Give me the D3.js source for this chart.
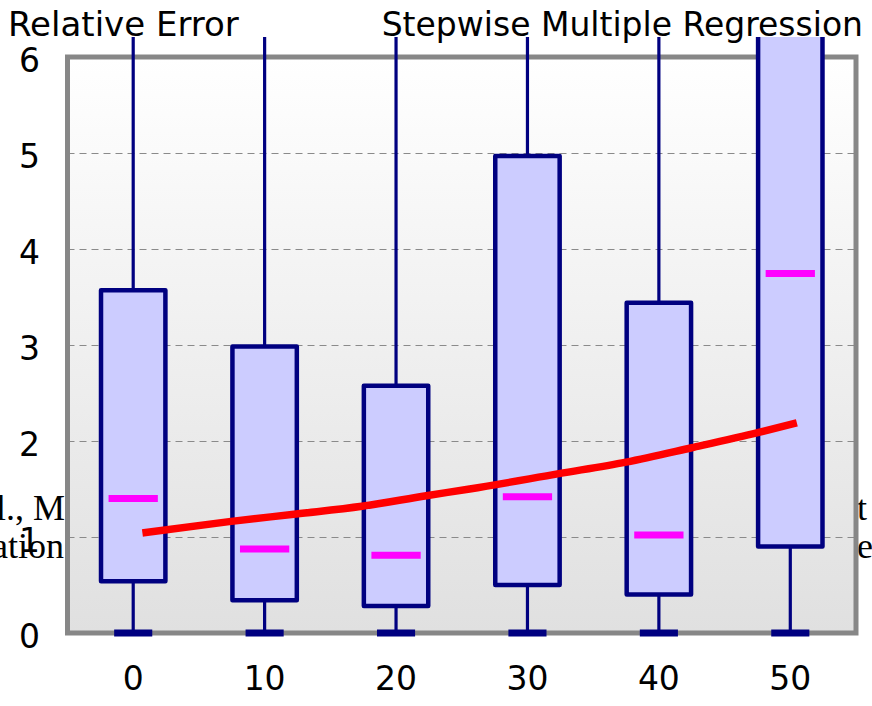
<!DOCTYPE html>
<html>
<head>
<meta charset="utf-8">
<script src="https://cdn.jsdelivr.net/npm/d3@7/dist/d3.min.js"></script>
<style>
  html, body { margin: 0; padding: 0; background: #ffffff; }
  svg { display: block; }
</style>
</head>
<body>
<svg id="chart" width="872" height="706"></svg>
<script>
// Box-plot data per category
const categories = ["0", "10", "20", "30", "40", "50"];
const q1Values = [0.54, 0.34, 0.28, 0.50, 0.40, 0.90];
const q3Values = [3.57, 2.985, 2.576, 4.97, 3.44, 7.0];
const medianValues = [1.40, 0.875, 0.81, 1.42, 1.02, 3.745];
const whiskerLowValues = [0, 0, 0, 0, 0, 0];
const whiskerHighValues = [9, 9, 9, 9, 9, 9];

// Trend curve (x in category units, y in relative error)
const trendX = [0.7, 7.3, 12.4, 17.4, 22.3, 25.6, 32.4, 37.5, 42.5, 47.6, 50.5];
const trendY = [1.042, 1.16, 1.24, 1.32, 1.43, 1.50, 1.66, 1.78, 1.93, 2.09, 2.19];

const yTicks = [0, 1, 2, 3, 4, 5, 6];
const titleLeft = "Relative Error";
const titleRight = "Stepwise Multiple Regression";

const svg = d3.select("#chart");
const plot = { left: 67.5, right: 856, top: 57, bottom: 633 };

const x = d3.scaleBand().domain(categories).range([plot.left, plot.right]).padding(0);
const xNum = d3.scaleLinear()
  .domain([+categories[0], +categories[categories.length - 1]])
  .range([x(categories[0]) + x.bandwidth() / 2, x(categories[categories.length - 1]) + x.bandwidth() / 2]);
const y = d3.scaleLinear().domain([0, 6]).range([plot.bottom, plot.top]);

// Surrounding page text partly hidden behind the plot
const serif = svg.append("g")
  .attr("font-family", "'Liberation Serif', 'DejaVu Serif', serif")
  .attr("font-size", 36)
  .attr("fill", "#000");
serif.append("text").attr("x", 65).attr("y", 520).attr("text-anchor", "end").text("al., M");
serif.append("text").attr("x", 64).attr("y", 558).attr("text-anchor", "end").text("ation");
serif.append("text").attr("x", 857).attr("y", 520).text("t");
serif.append("text").attr("x", 857).attr("y", 558).text("e");

// Plot background gradient
const defs = svg.append("defs");
const grad = defs.append("linearGradient").attr("id", "bg").attr("x1", 0).attr("y1", 0).attr("x2", 0).attr("y2", 1);
grad.append("stop").attr("offset", "0%").attr("stop-color", "#ffffff");
grad.append("stop").attr("offset", "100%").attr("stop-color", "#e0e0e0");

defs.append("clipPath").attr("id", "clip")
  .append("rect").attr("x", 0).attr("y", 37).attr("width", 872).attr("height", 706 - 37);

svg.append("rect")
  .attr("x", plot.left).attr("y", plot.top)
  .attr("width", plot.right - plot.left).attr("height", plot.bottom - plot.top)
  .attr("fill", "url(#bg)");

// Dashed grid lines
svg.append("g").selectAll("line")
  .data(yTicks.filter(d => d > 0 && d < 6))
  .join("line")
  .attr("x1", plot.left).attr("x2", plot.right)
  .attr("y1", d => Math.round(y(d)) + 0.5).attr("y2", d => Math.round(y(d)) + 0.5)
  .attr("stroke", "#8a8a8a").attr("stroke-width", 1)
  .attr("stroke-dasharray", "7,5");

// Frame
svg.append("rect")
  .attr("x", plot.left).attr("y", plot.top)
  .attr("width", plot.right - plot.left).attr("height", plot.bottom - plot.top)
  .attr("fill", "none").attr("stroke", "#878787").attr("stroke-width", 5);

// Boxes
const boxes = categories.map((c, i) => ({
  c, q1: q1Values[i], q3: q3Values[i], med: medianValues[i],
  lo: whiskerLowValues[i], hi: whiskerHighValues[i]
}));

const boxW = x.bandwidth() * 0.49;
const medW = x.bandwidth() * 0.375;
const capW = x.bandwidth() * 0.29;
const navy = "#000080";

const g = svg.append("g").attr("clip-path", "url(#clip)");
const bx = g.selectAll("g.box").data(boxes).join("g").attr("class", "box")
  .attr("transform", d => `translate(${x(d.c) + x.bandwidth() / 2},0)`);

// upper whisker
bx.append("line")
  .attr("x1", 0).attr("x2", 0)
  .attr("y1", d => y(d.q3)).attr("y2", d => y(d.hi))
  .attr("stroke", navy).attr("stroke-width", 3.2);
// lower whisker
bx.append("line")
  .attr("x1", 0).attr("x2", 0)
  .attr("y1", d => y(d.q1)).attr("y2", d => y(d.lo))
  .attr("stroke", navy).attr("stroke-width", 3.2);
// lower cap
bx.append("line")
  .attr("x1", -capW / 2).attr("x2", capW / 2)
  .attr("y1", d => y(d.lo)).attr("y2", d => y(d.lo))
  .attr("stroke", navy).attr("stroke-width", 7);
// box
bx.append("rect")
  .attr("x", -boxW / 2).attr("width", boxW)
  .attr("y", d => y(d.q3)).attr("height", d => y(d.q1) - y(d.q3))
  .attr("fill", "#ccccff").attr("stroke", navy).attr("stroke-width", 4.5)
  .attr("stroke-linejoin", "round");
// median
bx.append("line")
  .attr("x1", -medW / 2).attr("x2", medW / 2)
  .attr("y1", d => y(d.med)).attr("y2", d => y(d.med))
  .attr("stroke", "#ff00ff").attr("stroke-width", 7);

// Trend curve
const trend = trendX.map((v, i) => [v, trendY[i]]);
svg.append("path")
  .datum(trend)
  .attr("d", d3.line().x(d => xNum(d[0])).y(d => y(d[1])).curve(d3.curveMonotoneX))
  .attr("fill", "none").attr("stroke", "#ff0000").attr("stroke-width", 7.5);

// Axes
const font = "'DejaVu Sans', Verdana, sans-serif";
const yAxis = svg.append("g")
  .attr("transform", `translate(40,0)`)
  .call(d3.axisLeft(y).tickValues(yTicks).tickFormat(d3.format("d")).tickSize(0).tickPadding(0));
yAxis.select(".domain").remove();
yAxis.selectAll("text")
  .attr("font-family", font).attr("font-size", 33).attr("fill", "#000")
  .attr("dy", "0.43em");

const xAxis = svg.append("g")
  .attr("transform", `translate(0,${plot.bottom})`)
  .call(d3.axisBottom(x).tickSize(0).tickPadding(0));
xAxis.select(".domain").remove();
xAxis.selectAll("text")
  .attr("font-family", font).attr("font-size", 33).attr("fill", "#000")
  .attr("dy", 0).attr("y", 57);

// Titles
svg.append("text").attr("x", 8).attr("y", 36)
  .attr("font-family", font).attr("font-size", 34).attr("fill", "#000")
  .text(titleLeft);
svg.append("text").attr("x", 863).attr("y", 36).attr("text-anchor", "end")
  .attr("font-family", font).attr("font-size", 33).attr("fill", "#000")
  .text(titleRight);
</script>
</body>
</html>
